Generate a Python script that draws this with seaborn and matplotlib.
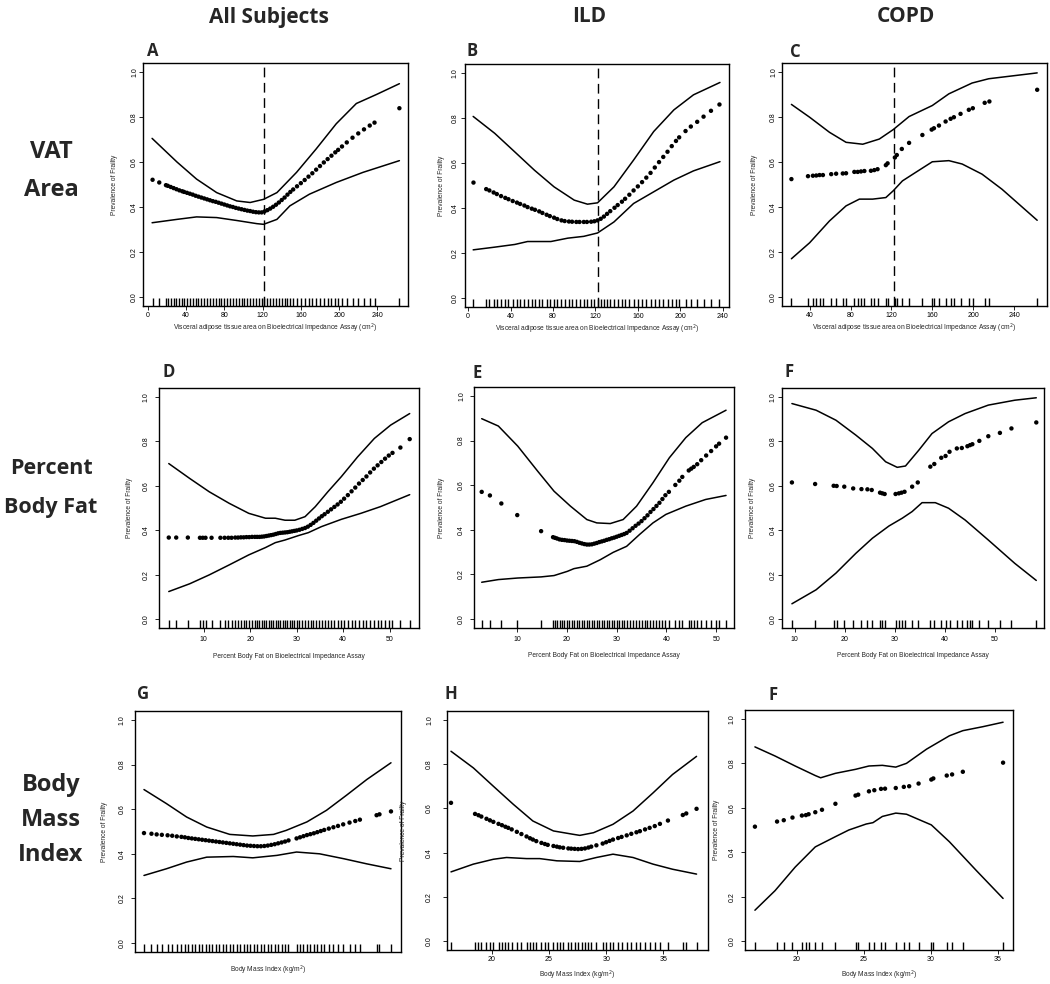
import matplotlib
matplotlib.use("Agg")
import matplotlib.pyplot as plt
import seaborn as sns

# ---------------- data ----------------
YTICKS = [0.0, 0.2, 0.4, 0.6, 0.8, 1.0]
YTICKLABELS = ["0.0", "0.2", "0.4", "0.6", "0.8", "1.0"]
VAT_CUTOFF = 122

COLUMNS = ["All Subjects", "ILD", "COPD"]
ROWS = [["VAT", "Area"], ["Percent", "Body Fat"], ["Body", "Mass", "Index"]]
LETTERS = ["A", "B", "C", "D", "E", "F", "G", "H", "F"]
XLAB_VAT = "Visceral adipose tissue area on Bioelectrical Impedance Assay (cm$^2$)"
XLAB_PBF = "Percent Body Fat on Bioelectrical Impedance Assay"
XLAB_BMI = "Body Mass Index (kg/m$^2$)"
YLAB = "Prevalence of Frailty"

# A: VAT, all subjects
A_x = [5, 12, 19, 21, 24, 27, 30, 33, 36, 38, 41, 44, 47, 50, 53, 56, 59, 62, 65, 68,
       71, 74, 77, 80, 83, 86, 89, 92, 95, 98, 101, 104, 107, 110, 113, 116, 119, 122, 125, 128,
       131, 134, 137, 140, 143, 146, 149, 152, 156, 160, 164, 168, 172, 176, 180, 184, 188, 192, 196, 199,
       203, 208, 214, 220, 226, 232, 237, 263]
A_fit = [0.521, 0.509, 0.497, 0.494, 0.489, 0.484, 0.479, 0.474, 0.470, 0.467,
         0.463, 0.459, 0.455, 0.450, 0.446, 0.442, 0.438, 0.434, 0.430, 0.426,
         0.423, 0.419, 0.415, 0.411, 0.407, 0.403, 0.400, 0.396, 0.393, 0.390,
         0.387, 0.384, 0.382, 0.379, 0.377, 0.376, 0.376, 0.380, 0.386, 0.393,
         0.401, 0.410, 0.420, 0.431, 0.442, 0.455, 0.467, 0.478, 0.492, 0.506,
         0.520, 0.535, 0.550, 0.566, 0.582, 0.598, 0.613, 0.628, 0.643, 0.654,
         0.669, 0.687, 0.708, 0.727, 0.745, 0.762, 0.775, 0.839]
A_hi_x = [4.5, 30.5, 51, 72, 93, 107, 121, 135, 155.5, 176, 197, 218, 239, 263]
A_hi = [0.705, 0.600, 0.524, 0.464, 0.427, 0.420, 0.434, 0.464, 0.554, 0.658, 0.770, 0.860, 0.900, 0.948]
A_lo_x = [4.5, 30.5, 51, 72, 93, 114, 121, 135, 148.5, 169, 197, 225, 263]
A_lo = [0.330, 0.345, 0.356, 0.353, 0.340, 0.326, 0.323, 0.345, 0.405, 0.457, 0.509, 0.554, 0.606]

# B: VAT, ILD
B_x = [5, 17, 20, 24, 27, 31, 35, 38, 42, 46, 49, 53, 56, 60, 63, 67, 70, 74, 77, 81,
       84, 88, 91, 95, 98, 102, 105, 109, 112, 116, 119, 122, 125, 128, 131, 134, 138, 141, 145, 148,
       152, 156, 160, 164, 168, 172, 176, 180, 184, 188, 192, 196, 199, 205, 210, 216, 222, 229, 237]
B_fit = [0.513, 0.484, 0.478, 0.469, 0.462, 0.453, 0.445, 0.439, 0.431, 0.424,
         0.418, 0.411, 0.404, 0.397, 0.392, 0.385, 0.378, 0.370, 0.364, 0.357,
         0.351, 0.345, 0.342, 0.340, 0.339, 0.338, 0.338, 0.338, 0.338, 0.339,
         0.341, 0.345, 0.352, 0.362, 0.374, 0.386, 0.401, 0.413, 0.428, 0.441,
         0.459, 0.478, 0.496, 0.515, 0.535, 0.556, 0.580, 0.604, 0.627, 0.650,
         0.675, 0.698, 0.714, 0.742, 0.762, 0.783, 0.806, 0.832, 0.860]
B_hi_x = [4.7, 25, 43.8, 62.5, 81, 100, 112.5, 122, 137.5, 156, 175, 194, 212.5, 237.5]
B_hi = [0.807, 0.732, 0.650, 0.568, 0.494, 0.435, 0.417, 0.423, 0.494, 0.613, 0.740, 0.836, 0.903, 0.958]
B_lo_x = [4.7, 25, 44, 56, 78, 94, 109, 122, 137.5, 156, 175, 194, 212.5, 237.5]
B_lo = [0.214, 0.226, 0.238, 0.251, 0.251, 0.266, 0.274, 0.289, 0.338, 0.420, 0.472, 0.524, 0.565, 0.606]

# C: VAT, COPD
C_x = [22.2, 38.4, 43.2, 46.5, 49.7, 53.0, 61.1, 65.9, 72.4, 75.6, 83.7, 87.0, 90.2, 93.5, 99.9, 103.2,
       106.4, 114.5, 116.2, 123.3, 125.2, 130.1, 137.2, 150.2, 159.3, 161.5, 166.4, 172.9, 177.8, 181.0,
       187.5, 195.6, 199.5, 211.1, 215.7, 262.4]
C_fit = [0.524, 0.537, 0.539, 0.540, 0.542, 0.542, 0.546, 0.548, 0.549, 0.550, 0.556, 0.556, 0.558, 0.560,
         0.561, 0.564, 0.568, 0.586, 0.594, 0.620, 0.631, 0.658, 0.685, 0.720, 0.744, 0.750, 0.762, 0.780,
         0.792, 0.799, 0.814, 0.832, 0.839, 0.863, 0.869, 0.921]
C_hi_x = [22.2, 40, 59.4, 75.6, 91.9, 108.1, 121.7, 137.2, 159.9, 176.1, 198.8, 215.0, 262.4]
C_hi = [0.856, 0.799, 0.732, 0.6875, 0.679, 0.702, 0.744, 0.802, 0.851, 0.903, 0.951, 0.970, 0.996]
C_lo_x = [22.2, 40, 59.4, 75.6, 88.6, 101.6, 114.5, 121.7, 130.7, 143.7, 159.9, 176.1, 189.1, 208.5, 228.0, 262.4]
C_lo = [0.170, 0.241, 0.338, 0.405, 0.435, 0.435, 0.442, 0.472, 0.516, 0.554, 0.601, 0.606, 0.591, 0.546, 0.479, 0.341]

# D: percent body fat, all subjects
D_x = [2.5, 4.1, 6.6, 9.2, 9.8, 10.4, 11.7, 13.6, 14.5, 15.3, 16.0, 16.8, 17.4, 18.0, 18.6, 19.2, 19.8,
       20.4, 21.0, 21.5, 22.0, 22.5, 23.0, 23.5, 24.0, 24.5, 25.0, 25.5, 26.0, 26.5, 27.0, 27.5, 28.0,
       28.5, 29.0, 29.5, 30.0, 30.6, 31.2, 31.8, 32.4, 33.0, 33.6, 34.2, 34.8, 35.4, 36.0, 36.7, 37.4,
       38.1, 38.8, 39.5, 40.2, 41.0, 41.8, 42.6, 43.4, 44.2, 45.0, 45.8, 46.6, 47.4, 48.2, 49.0, 49.8,
       50.6, 52.3, 54.3]
D_fit = [0.367, 0.367, 0.367, 0.366, 0.366, 0.366, 0.366, 0.366, 0.366, 0.366,
         0.366, 0.367, 0.367, 0.368, 0.368, 0.369, 0.369, 0.370, 0.370, 0.370,
         0.370, 0.371, 0.372, 0.374, 0.376, 0.378, 0.380, 0.383, 0.386, 0.388,
         0.389, 0.390, 0.391, 0.393, 0.395, 0.397, 0.399, 0.402, 0.406, 0.410,
         0.416, 0.424, 0.433, 0.443, 0.453, 0.463, 0.472, 0.483, 0.494, 0.505,
         0.516, 0.528, 0.542, 0.558, 0.575, 0.592, 0.610, 0.626, 0.642, 0.660,
         0.677, 0.692, 0.707, 0.722, 0.736, 0.748, 0.772, 0.810]
D_hi_x = [2.5, 7.0, 11.2, 15.5, 19.7, 23.3, 25.4, 27.5, 29.6, 31.8, 34.0, 36.7, 39.6, 43.1, 46.7, 50.2, 54.3]
D_hi = [0.700, 0.633, 0.573, 0.521, 0.476, 0.454, 0.454, 0.445, 0.445, 0.461, 0.506, 0.573, 0.641, 0.730, 0.813, 0.873, 0.925]
D_lo_x = [2.5, 7.0, 11.2, 15.5, 19.7, 23.3, 25.4, 27.5, 30.4, 32.5, 35.3, 39.6, 43.8, 48.0, 54.3]
D_lo = [0.124, 0.159, 0.199, 0.244, 0.289, 0.322, 0.344, 0.356, 0.376, 0.389, 0.416, 0.449, 0.476, 0.506, 0.560]

# E: percent body fat, ILD
E_x = [2.85, 4.5, 6.8, 10.0, 14.8, 17.2, 17.6, 18.0, 18.5, 19.0, 19.5, 20.0, 20.5, 21.0, 21.5, 22.0,
       22.5, 23.0, 23.5, 24.0, 24.5, 25.0, 25.5, 26.0, 26.5, 27.0, 27.5, 28.0, 28.5, 29.0, 29.5, 30.0,
       30.5, 31.0, 31.5, 32.0, 32.6, 33.2, 33.8, 34.4, 35.0, 35.6, 36.2, 36.8, 37.4, 38.0, 38.6, 39.2,
       39.8, 40.5, 41.8, 42.6, 43.2, 44.5, 45.0, 45.5, 46.2, 47.0, 48.0, 49.0, 50.0, 50.6, 52.0]
E_fit = [0.570, 0.554, 0.518, 0.466, 0.394, 0.367, 0.364, 0.361, 0.357, 0.355,
         0.354, 0.352, 0.351, 0.350, 0.349, 0.346, 0.342, 0.339, 0.336, 0.334,
         0.334, 0.335, 0.338, 0.341, 0.345, 0.348, 0.351, 0.355, 0.358, 0.362,
         0.365, 0.369, 0.373, 0.377, 0.381, 0.386, 0.396, 0.407, 0.418, 0.428,
         0.439, 0.452, 0.465, 0.480, 0.493, 0.507, 0.521, 0.538, 0.555, 0.570,
         0.601, 0.620, 0.637, 0.666, 0.674, 0.682, 0.694, 0.712, 0.733, 0.753,
         0.774, 0.786, 0.813]
E_hi_x = [2.85, 6.2, 10.1, 14.1, 17.4, 20.7, 24.0, 26.0, 28.7, 31.3, 34.0, 37.3, 40.6, 43.9, 47.2, 52.0]
E_hi = [0.898, 0.865, 0.775, 0.663, 0.573, 0.506, 0.446, 0.431, 0.428, 0.446, 0.506, 0.611, 0.723, 0.813, 0.880, 0.936]
E_lo_x = [2.85, 6.2, 10.1, 14.8, 17.4, 20.1, 21.4, 24.0, 26.7, 29.3, 32.0, 34.6, 37.3, 39.9, 43.9, 47.9, 52.0]
E_lo = [0.165, 0.177, 0.184, 0.189, 0.195, 0.214, 0.226, 0.237, 0.266, 0.299, 0.326, 0.379, 0.431, 0.469, 0.506, 0.536, 0.554]

# F: percent body fat, COPD
F_x = [9.48, 14.11, 17.81, 18.41, 19.93, 21.71, 23.36, 24.55, 25.41, 27.07, 27.53, 27.99, 30.17, 30.83,
       31.36, 31.96, 33.48, 34.6, 37.11, 37.9, 39.29, 40.15, 40.94, 42.4, 43.39, 44.51, 45.04, 45.5,
       46.89, 48.68, 51.0, 53.3, 58.26]
F_fit = [0.615, 0.608, 0.600, 0.599, 0.596, 0.588, 0.585, 0.584, 0.581, 0.569, 0.566, 0.563, 0.563,
         0.566, 0.569, 0.573, 0.596, 0.615, 0.686, 0.698, 0.726, 0.734, 0.753, 0.768, 0.770, 0.778,
         0.783, 0.787, 0.802, 0.823, 0.838, 0.858, 0.885]
F_hi_x = [9.48, 14.31, 18.27, 22.24, 25.55, 28.19, 30.5, 32.15, 34.8, 37.44, 40.75, 44.05, 48.68, 53.96, 58.26]
F_hi = [0.970, 0.940, 0.895, 0.828, 0.768, 0.708, 0.683, 0.689, 0.760, 0.835, 0.888, 0.925, 0.963, 0.985, 0.996]
F_lo_x = [9.48, 14.31, 18.27, 22.24, 25.55, 28.85, 31.5, 33.48, 35.46, 38.1, 40.75, 44.05, 48.68, 53.96, 58.26]
F_lo = [0.069, 0.132, 0.207, 0.296, 0.364, 0.419, 0.454, 0.484, 0.524, 0.524, 0.499, 0.446, 0.356, 0.251, 0.174]

# G: BMI, all subjects
G_x = [16.45, 17.1, 17.55, 18.0, 18.5, 18.9, 19.3, 19.7, 20.0, 20.3, 20.6, 20.9, 21.2, 21.5, 21.8,
       22.1, 22.4, 22.7, 23.0, 23.3, 23.6, 23.9, 24.2, 24.5, 24.8, 25.1, 25.4, 25.7, 26.0, 26.3, 26.6,
       26.9, 27.2, 27.5, 27.8, 28.1, 28.4, 28.7, 29.0, 29.7, 30.0, 30.3, 30.6, 30.9, 31.2, 31.5, 31.8,
       32.1, 32.5, 32.9, 33.3, 33.75, 34.3, 34.8, 35.2, 36.65, 36.9, 37.9]
G_fit = [0.493, 0.490, 0.487, 0.485, 0.483, 0.481, 0.478, 0.476, 0.474, 0.471,
         0.469, 0.467, 0.465, 0.463, 0.461, 0.459, 0.457, 0.455, 0.453, 0.451,
         0.449, 0.447, 0.445, 0.443, 0.441, 0.439, 0.437, 0.436, 0.435, 0.434,
         0.434, 0.435, 0.437, 0.440, 0.443, 0.447, 0.451, 0.455, 0.460, 0.469,
         0.474, 0.479, 0.484, 0.488, 0.492, 0.497, 0.502, 0.507, 0.513, 0.519,
         0.525, 0.532, 0.540, 0.547, 0.553, 0.573, 0.577, 0.590]
G_hi_x = [16.45, 18.4, 20.15, 21.9, 23.9, 25.9, 27.7, 28.8, 30.6, 32.3, 34.05, 35.8, 37.9]
G_hi = [0.688, 0.625, 0.565, 0.520, 0.487, 0.480, 0.487, 0.505, 0.543, 0.595, 0.663, 0.733, 0.808]
G_lo_x = [16.45, 18.4, 20.15, 21.9, 24.2, 25.9, 28.0, 29.7, 31.7, 33.8, 35.8, 37.9]
G_lo = [0.303, 0.333, 0.363, 0.385, 0.388, 0.382, 0.393, 0.408, 0.400, 0.378, 0.355, 0.333]

# H: BMI, ILD
H_x = [16.45, 18.55, 18.85, 19.1, 19.55, 19.85, 20.15, 20.6, 20.9, 21.2, 21.45, 21.75, 22.2, 22.6,
       23.05, 23.35, 23.6, 23.9, 24.35, 24.65, 24.9, 25.4, 25.7, 25.95, 26.25, 26.7, 26.95, 27.25,
       27.55, 27.85, 28.15, 28.45, 28.7, 29.15, 29.7, 30.0, 30.3, 30.6, 31.05, 31.35, 31.8, 32.2,
       32.65, 32.95, 33.4, 33.8, 34.25, 34.7, 35.4, 36.7, 37.0, 37.9]
H_fit = [0.625, 0.575, 0.569, 0.563, 0.553, 0.546, 0.539, 0.530, 0.524, 0.517,
         0.512, 0.505, 0.494, 0.484, 0.473, 0.465, 0.459, 0.452, 0.444, 0.439,
         0.435, 0.430, 0.427, 0.424, 0.422, 0.419, 0.418, 0.417, 0.416, 0.417,
         0.419, 0.423, 0.427, 0.433, 0.441, 0.447, 0.453, 0.459, 0.466, 0.471,
         0.478, 0.485, 0.492, 0.497, 0.505, 0.512, 0.520, 0.530, 0.545, 0.570,
         0.577, 0.598]
H_hi_x = [16.45, 18.4, 20.15, 21.9, 23.6, 25.4, 27.1, 27.7, 28.9, 30.6, 32.35, 34.1, 35.8, 37.9]
H_hi = [0.858, 0.783, 0.700, 0.618, 0.543, 0.498, 0.483, 0.478, 0.490, 0.528, 0.588, 0.670, 0.753, 0.835]
H_lo_x = [16.45, 18.4, 20.15, 21.3, 23.05, 24.2, 25.7, 27.7, 29.15, 30.6, 32.35, 34.1, 35.8, 37.9]
H_lo = [0.313, 0.348, 0.370, 0.378, 0.373, 0.373, 0.363, 0.360, 0.378, 0.393, 0.378, 0.348, 0.325, 0.303]

# I: BMI, COPD
I_x = [16.9, 18.55, 19.05, 19.7, 20.4, 20.7, 20.9, 21.4, 21.9, 22.9, 24.4, 24.6, 25.4, 25.8, 26.3,
       26.6, 27.4, 28.0, 28.4, 29.1, 30.05, 30.2, 31.2, 31.6, 32.4, 35.4]
I_fit = [0.515, 0.538, 0.544, 0.556, 0.565, 0.567, 0.571, 0.580, 0.591, 0.618, 0.655, 0.659, 0.674,
         0.679, 0.685, 0.686, 0.689, 0.694, 0.697, 0.709, 0.727, 0.732, 0.745, 0.750, 0.762, 0.803]
I_hi_x = [16.9, 18.4, 19.9, 21.4, 21.8, 22.9, 24.4, 25.4, 26.4, 27.4, 28.2, 29.7, 31.4, 32.4, 33.9, 35.4]
I_hi = [0.874, 0.833, 0.788, 0.745, 0.735, 0.755, 0.773, 0.788, 0.791, 0.783, 0.800, 0.864, 0.924, 0.947, 0.965, 0.985]
I_lo_x = [16.9, 18.4, 19.9, 21.4, 22.9, 23.9, 25.2, 25.7, 26.4, 27.4, 28.2, 29.2, 30.05, 31.4, 33.4, 35.4]
I_lo = [0.139, 0.227, 0.333, 0.424, 0.470, 0.500, 0.527, 0.533, 0.561, 0.576, 0.571, 0.545, 0.523, 0.447, 0.318, 0.192]

# ---------------- layout (pixels) ----------------
W, H = 1050, 984
sns.set_style("white")
plt.rcParams["font.family"] = ["Liberation Sans", "DejaVu Sans"]

fig = plt.figure(figsize=(W / 100, H / 100), dpi=100)


def rect(l, t, r, b):
    return [l / W, 1 - b / H, (r - l) / W, (b - t) / H]


panels = [
    dict(data=(A_x, A_fit, A_hi_x, A_hi, A_lo_x, A_lo), box=(143, 63, 408, 306), xlim=(-5, 272),
         xticks=[0, 40, 80, 120, 160, 200, 240], xlab=XLAB_VAT, cut=True,
         ylc=-0.095, xlc=-0.066, ypad=0.5, xpad=1.5, lpos=(147, 51)),
    dict(data=(B_x, B_fit, B_hi_x, B_hi, B_lo_x, B_lo), box=(465, 64, 729, 307), xlim=(-3, 246),
         xticks=[0, 40, 80, 120, 160, 200, 240], xlab=XLAB_VAT, cut=True,
         ylc=-0.075, xlc=-0.066, ypad=1.5, xpad=1.5, lpos=(467, 51)),
    dict(data=(C_x, C_fit, C_hi_x, C_hi, C_lo_x, C_lo), box=(782, 63, 1047, 306), xlim=(13, 272),
         xticks=[40, 80, 120, 160, 200, 240], xlab=XLAB_VAT, cut=True,
         ylc=-0.09, xlc=-0.066, ypad=0.5, xpad=1.5, lpos=(790, 52)),
    dict(data=(D_x, D_fit, D_hi_x, D_hi, D_lo_x, D_lo), box=(159, 388, 419, 628), xlim=(0.4, 56.3),
         xticks=[10, 20, 30, 40, 50], xlab=XLAB_PBF, cut=False,
         ylc=-0.10, xlc=-0.104, ypad=4, xpad=2.5, lpos=(162, 372)),
    dict(data=(E_x, E_fit, E_hi_x, E_hi, E_lo_x, E_lo), box=(474, 387, 734, 628), xlim=(1.3, 53.6),
         xticks=[10, 20, 30, 40, 50], xlab=XLAB_PBF, cut=False,
         ylc=-0.11, xlc=-0.10, ypad=3.5, xpad=2.5, lpos=(473, 373)),
    dict(data=(F_x, F_fit, F_hi_x, F_hi, F_lo_x, F_lo), box=(782, 388, 1044, 628), xlim=(7.5, 59.8),
         xticks=[10, 20, 30, 40, 50], xlab=XLAB_PBF, cut=False,
         ylc=-0.10, xlc=-0.10, ypad=1.0, xpad=2.5, lpos=(785, 372)),
    dict(data=(G_x, G_fit, G_hi_x, G_hi, G_lo_x, G_lo), box=(135, 711, 401, 952), xlim=(15.67, 38.77),
         xticks=[], xlab=XLAB_BMI, cut=False,
         ylc=-0.10, xlc=-0.05, ypad=4, xpad=2, lpos=(137, 694)),
    dict(data=(H_x, H_fit, H_hi_x, H_hi, H_lo_x, H_lo), box=(447, 711, 708, 950), xlim=(16.1, 38.9),
         xticks=[20, 25, 30, 35], xlab=XLAB_BMI, cut=False,
         ylc=-0.155, xlc=-0.078, ypad=7, xpad=1.5, lpos=(445, 694)),
    dict(data=(I_x, I_fit, I_hi_x, I_hi, I_lo_x, I_lo), box=(745, 710, 1013, 950), xlim=(16.16, 36.14),
         xticks=[20, 25, 30, 35], xlab=XLAB_BMI, cut=False,
         ylc=-0.094, xlc=-0.078, ypad=4, xpad=1.5, lpos=(768, 695)),
]

for p, letter in zip(panels, LETTERS):
    ax = fig.add_axes(rect(*p["box"]))
    x, fit, hx, hi, lx, lo = p["data"]
    sns.lineplot(x=hx, y=hi, ax=ax, color="black", lw=1.1, estimator=None, sort=False)
    sns.lineplot(x=lx, y=lo, ax=ax, color="black", lw=1.1, estimator=None, sort=False)
    sns.scatterplot(x=x, y=fit, ax=ax, color="black", s=10, linewidth=0, edgecolor="none", zorder=3)
    sns.rugplot(x=x, ax=ax, height=0.032, color="black", lw=0.6, expand_margins=False)
    if p["cut"]:
        ax.axvline(VAT_CUTOFF, color="black", lw=1.0, ls=(0, (7, 4)))
    ax.set_xlim(*p["xlim"])
    ax.set_ylim(-0.04, 1.04)
    ax.set_yticks(YTICKS)
    ax.set_yticklabels(YTICKLABELS, rotation=90, va="center")
    ax.set_xticks(p["xticks"])
    ax.tick_params(axis="y", direction="out", length=3, width=0.6, labelsize=5, pad=p["ypad"],
                   colors="black", left=True)
    ax.tick_params(axis="x", direction="out", length=3, width=0.6, labelsize=5, pad=p["xpad"],
                   colors="black", bottom=bool(p["xticks"]))
    for s in ax.spines.values():
        s.set_visible(True)
        s.set_color("black")
        s.set_linewidth(1.0)
    ax.set_xlabel(p["xlab"], fontsize=4.8)
    ax.set_ylabel(YLAB, fontsize=4.8)
    ax.xaxis.set_label_coords(0.5, p["xlc"])
    ax.yaxis.set_label_coords(p["ylc"], 0.5)
    lx_, ly_ = p["lpos"]
    fig.text(lx_ / W, 1 - ly_ / H, letter, fontsize=12, fontweight="bold",
             family=["Open Sans", "DejaVu Sans"], ha="left", va="center")

# column headers
for label, cx in zip(COLUMNS, [269, 589, 906]):
    fig.text(cx / W, 1 - 17 / H, label, fontsize=15, fontweight="bold",
             family=["Open Sans", "DejaVu Sans"], ha="center", va="center")

# row headers
row_y = [[152, 190], [468, 508], [785, 820, 855]]
row_fs = [17, 15.5, 17]
for lines, ys, fs in zip(ROWS, row_y, row_fs):
    for txt, yy in zip(lines, ys):
        fig.text(51 / W, 1 - yy / H, txt, fontsize=fs, fontweight="bold",
                 family=["Open Sans", "DejaVu Sans"], ha="center", va="center")

fig.savefig("out.png", dpi=100)
